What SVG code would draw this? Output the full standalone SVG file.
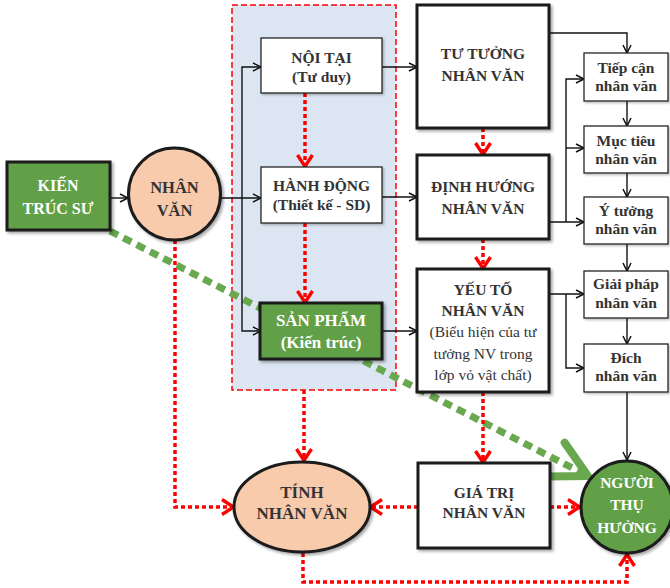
<svg xmlns="http://www.w3.org/2000/svg" width="670" height="588" viewBox="0 0 670 588">
<defs>
<style>
.t{font-family:"Liberation Serif","Times New Roman",serif;font-weight:bold;font-size:15.5px;fill:#333;text-anchor:middle}
.tw{fill:#fff}
.tn{font-weight:normal}
.big{font-size:17px}
.thin{fill:#fff;stroke:#222;stroke-width:1.3;filter:url(#sh1)}
.thick{fill:#fff;stroke:#1a1a1a;stroke-width:3;filter:url(#sh)}
.green{fill:#62a046}
.peach{fill:#f8cbad}
.blk{fill:none;stroke:#111;stroke-width:1.4;marker-end:url(#ab)}
.red{fill:none;stroke:#ff0000;stroke-width:3.5;stroke-dasharray:4 3}
.ra{marker-end:url(#ar)}
</style>
<filter id="sh" x="-10%" y="-10%" width="130%" height="130%"><feDropShadow dx="2" dy="2" stdDeviation="1.5" flood-color="#000" flood-opacity="0.35"/></filter>
<filter id="sh1" x="-10%" y="-10%" width="130%" height="130%"><feDropShadow dx="1.5" dy="1.5" stdDeviation="1" flood-color="#000" flood-opacity="0.25"/></filter>
<marker id="ab" viewBox="0 0 10 10" refX="9" refY="5" markerWidth="10" markerHeight="10" markerUnits="userSpaceOnUse" orient="auto" overflow="visible">
<path d="M1,1 L9,5 L1,9" fill="none" stroke="#111" stroke-width="1.5"/>
</marker>
<marker id="ar" viewBox="0 0 14 18" refX="13" refY="9" markerWidth="14" markerHeight="18" markerUnits="userSpaceOnUse" orient="auto" overflow="visible">
<path d="M1,1.5 L12.5,9 L1,16.5" fill="none" stroke="#ff0000" stroke-width="3.4"/>
</marker>
<marker id="ag" viewBox="-50 -30 60 60" refX="0" refY="0" markerWidth="60" markerHeight="60" markerUnits="userSpaceOnUse" orient="auto" overflow="visible">
<path d="M-36,-19 L0,0 L-36,19" fill="none" stroke="#6aa84f" stroke-width="8" stroke-linecap="round" stroke-linejoin="round"/>
</marker>
</defs>
<rect width="670" height="588" fill="#fff"/>
<g id="group-box">
<rect x="232" y="5" width="164" height="385" fill="#dce6f2" stroke="#ff0000" stroke-width="1.5" stroke-dasharray="6 3"/>
</g>
<g id="connectors">
<path d="M110,231 L588,476" fill="none" stroke="#6aa84f" stroke-width="7" stroke-dasharray="9 6" marker-end="url(#ag)"/>
<path class="blk" d="M110,198 H128"/>
<path class="blk" d="M220,198 H261"/>
<path class="blk" d="M242,198 V67 H261"/>
<path class="blk" d="M242,198 V331 H261"/>
<path class="blk" d="M382,67 H417"/>
<path class="blk" d="M382,197 H417"/>
<path class="blk" d="M382,331 H417"/>
<path class="blk" d="M549,33 H627 V53"/>
<path class="blk" d="M549,222 H584"/>
<path class="blk" d="M566,222 V79 H584"/>
<path class="blk" d="M566,148 H584"/>
<path class="blk" d="M549,294 H584"/>
<path class="blk" d="M566,294 V368 H584"/>
<path class="blk" d="M627,101 V126"/>
<path class="blk" d="M627,173 V197"/>
<path class="blk" d="M627,244 V271"/>
<path class="blk" d="M627,318 V344"/>
<path class="blk" d="M627,392 V460"/>
<path class="red ra" d="M305,93 V167"/>
<path class="red ra" d="M305,223 V303"/>
<path class="red ra" d="M483,128 V155"/>
<path class="red ra" d="M483,239 V269"/>
<path class="red ra" d="M304,390 V461"/>
<path class="red ra" d="M483,392 V463"/>
<path class="red ra" d="M175,240 V507 H234"/>
<path class="red ra" d="M418,507 H370"/>
<path class="red ra" d="M550,507 H580"/>
<path class="red ra" d="M303,553 V582 H627 V554"/>
</g>
<g id="kien-truc-su">
<rect x="7" y="162" width="103" height="68" class="thick green"/>
<text class="t tw" x="58" y="191" style="font-size:16px">KIẾN</text>
<text class="t tw" x="58" y="214" style="font-size:16px">TRÚC SƯ</text>
</g>
<g id="nhan-van">
<circle cx="174.5" cy="194" r="46" class="thick peach"/>
<text class="t" x="174.5" y="193" style="font-size:16.5px">NHÂN</text>
<text class="t" x="174.5" y="216" style="font-size:16.5px">VĂN</text>
</g>
<g id="noi-tai">
<rect x="261" y="38" width="121" height="55" class="thin"/>
<text class="t" x="321.5" y="63">NỘI TẠI</text>
<text class="t" x="321.5" y="82">(Tư duy)</text>
</g>
<g id="hanh-dong">
<rect x="261" y="167" width="121" height="56" class="thin"/>
<text class="t" x="321.5" y="191">HÀNH ĐỘNG</text>
<text class="t" x="321.5" y="210">(Thiết kế - SD)</text>
</g>
<g id="san-pham">
<rect x="260" y="303" width="122" height="56" class="thick green"/>
<text class="t tw big" x="321" y="326">SẢN PHẨM</text>
<text class="t tw big" x="321" y="348">(Kiến trúc)</text>
</g>
<g id="tu-tuong">
<rect x="417" y="5" width="132" height="123" class="thick"/>
<text class="t" x="483" y="59">TƯ TƯỞNG</text>
<text class="t" x="483" y="81">NHÂN VĂN</text>
</g>
<g id="dinh-huong">
<rect x="417" y="155" width="132" height="84" class="thick"/>
<text class="t" x="483" y="192">ĐỊNH HƯỚNG</text>
<text class="t" x="483" y="214">NHÂN VĂN</text>
</g>
<g id="yeu-to">
<rect x="417" y="269" width="132" height="123" class="thick"/>
<text class="t" x="483" y="295">YẾU TỐ</text>
<text class="t" x="483" y="316">NHÂN VĂN</text>
<text class="t tn" x="483" y="337">(Biểu hiện của tư</text>
<text class="t tn" x="483" y="359">tưởng NV trong</text>
<text class="t tn" x="483" y="380">lớp vỏ vật chất)</text>
</g>
<g id="tiep-can">
<rect x="584" y="53" width="84" height="48" class="thin"/>
<text class="t" x="626" y="73">Tiếp cận</text>
<text class="t" x="626" y="91">nhân văn</text>
</g>
<g id="muc-tieu">
<rect x="584" y="126" width="84" height="47" class="thin"/>
<text class="t" x="626" y="146">Mục tiêu</text>
<text class="t" x="626" y="164">nhân văn</text>
</g>
<g id="y-tuong">
<rect x="584" y="197" width="84" height="47" class="thin"/>
<text class="t" x="626" y="216">Ý tưởng</text>
<text class="t" x="626" y="234">nhân văn</text>
</g>
<g id="giai-phap">
<rect x="584" y="271" width="84" height="47" class="thin"/>
<text class="t" x="626" y="289">Giải pháp</text>
<text class="t" x="626" y="308">nhân văn</text>
</g>
<g id="dich">
<rect x="584" y="344" width="84" height="48" class="thin"/>
<text class="t" x="626" y="363">Đích</text>
<text class="t" x="626" y="381">nhân văn</text>
</g>
<g id="tinh-nhan-van">
<ellipse cx="302" cy="507" rx="68" ry="45" class="thick peach"/>
<text class="t big" x="302" y="498">TÍNH</text>
<text class="t big" x="302" y="519">NHÂN VĂN</text>
</g>
<g id="gia-tri">
<rect x="418" y="463" width="132" height="85" class="thick"/>
<text class="t" x="484" y="498">GIÁ TRỊ</text>
<text class="t" x="484" y="518">NHÂN VĂN</text>
</g>
<g id="nguoi-thu-huong">
<circle cx="627" cy="507" r="46" class="thick green"/>
<text class="t tw" x="627" y="488">NGƯỜI</text>
<text class="t tw" x="627" y="510">THỤ</text>
<text class="t tw" x="627" y="533">HƯỞNG</text>
</g>
</svg>
